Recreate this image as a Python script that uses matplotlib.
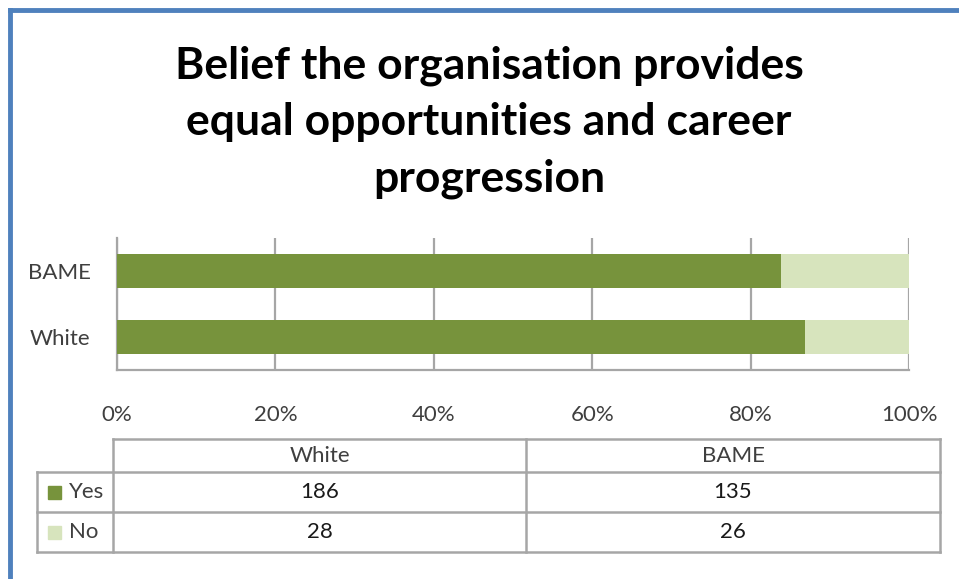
import matplotlib
matplotlib.use("Agg")
import matplotlib.pyplot as plt
from matplotlib.lines import Line2D
from matplotlib.patches import Rectangle

# survey answers per ethnic group
groups = ["White", "BAME"]
answers = ["Yes", "No"]
yes_counts = [186, 135]
no_counts = [28, 26]
ticks = [0, 20, 40, 60, 80, 100]

dark_green = "#77933C"
light_green = "#D7E4BD"
grid_grey = "#A6A6A6"
text_grey = "#3F3F3F"

W, H = 959, 579
fig = plt.figure(figsize=(W / 100, H / 100), dpi=100)
plt.rcParams["font.family"] = ["Lato", "DejaVu Sans"]


def fx(px):
    return px / W


def fy(py):
    return 1 - py / H


# blue chart frame (top and left edges)
fig.add_artist(Line2D([fx(10), 1], [fy(10), fy(10)], color="#4F81BD", lw=3.5))
fig.add_artist(Line2D([fx(10), fx(10)], [fy(10), 0], color="#4F81BD", lw=3.5))

fig.text(fx(489), fy(122), "Belief the organisation provides\nequal opportunities and career\nprogression",
         ha="center", va="center", fontsize=32, fontweight="bold", linespacing=1.5, color="black")

# percentage stacked bars
totals = [y + n for y, n in zip(yes_counts, no_counts)]
yes_pct = [100 * y / t for y, t in zip(yes_counts, totals)]
no_pct = [100 * n / t for n, t in zip(no_counts, totals)]

ax = fig.add_axes([fx(117), fy(370), fx(909) - fx(117), (370 - 238) / H])
pos = list(range(len(groups)))
ax.barh(pos, yes_pct, height=0.52, color=dark_green, zorder=3)
ax.barh(pos, no_pct, left=yes_pct, height=0.52, color=light_green, zorder=3)
ax.set_xlim(0, 100)
ax.set_ylim(-0.5, 1.5)
ax.set_xticks(ticks)
ax.set_xticklabels([f"{t}%" for t in ticks])
ax.set_yticks(pos)
ax.set_yticklabels(groups)
ax.tick_params(length=0, labelsize=16, colors=text_grey)
ax.tick_params(axis="x", pad=25)
ax.tick_params(axis="y", pad=19)
ax.grid(axis="x", color=grid_grey, lw=1.6, zorder=0)
for s in ["top", "right"]:
    ax.spines[s].set_visible(False)
for s in ["left", "bottom"]:
    ax.spines[s].set_color(grid_grey)
    ax.spines[s].set_linewidth(1.6)

# data table below the bars
tab = fig.add_axes([0, 0, 1, 1], facecolor="none")
tab.set_xlim(0, W)
tab.set_ylim(H, 0)
tab.axis("off")
x0, x1, x2, x3 = 37, 113, 526, 940
y0, y1, y2, y3 = 439, 472, 512, 552
lk = dict(color=grid_grey, lw=1.8)
tab.plot([x1, x3], [y0, y0], **lk)
for yy in (y1, y2, y3):
    tab.plot([x0, x3], [yy, yy], **lk)
tab.plot([x0, x0], [y1, y3], **lk)
for xx in (x1, x2, x3):
    tab.plot([xx, xx], [y0, y3], **lk)

col_mid = [(x1 + x2) / 2, (x2 + x3) / 2]
for cx, g in zip(col_mid, groups):
    tab.text(cx, (y0 + y1) / 2, g, ha="center", va="center", fontsize=16, color=text_grey)
rows = [yes_counts, no_counts]
row_mid = [(y1 + y2) / 2, (y2 + y3) / 2]
for ry, vals, lab, c in zip(row_mid, rows, answers, [dark_green, light_green]):
    tab.add_patch(Rectangle((48, ry - 6), 13, 13, color=c))
    tab.text(69, ry, lab, ha="left", va="center", fontsize=16, color=text_grey)
    for cx, v in zip(col_mid, vals):
        tab.text(cx, ry, str(v), ha="center", va="center", fontsize=16, color="#1a1a1a")

fig.savefig("out.png", dpi=100)
